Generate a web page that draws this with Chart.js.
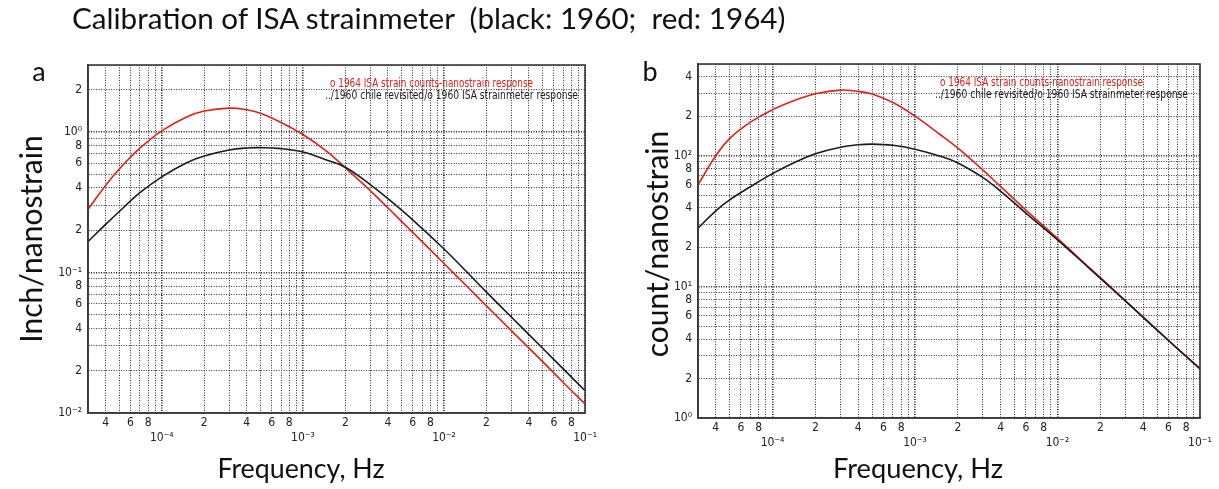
<!DOCTYPE html>
<html>
<head>
<meta charset="utf-8">
<title>Calibration of ISA strainmeter</title>
<script src="https://cdn.jsdelivr.net/npm/chart.js@4.4.0/dist/chart.umd.min.js"></script>
<style>
  body { margin: 0; background: #fff; width: 1219px; height: 489px; position: relative; overflow: hidden;
         font-family: Lato, "Open Sans", sans-serif; color: #111; }
  canvas { position: absolute; top: 0; }
  #chartA { left: 0; }
  #chartB { left: 600px; }
  .txt { position: absolute; white-space: nowrap; line-height: 1; }
  .mid { transform: translate(-50%, -50%); }
  .rot { transform: translate(-50%, -50%) rotate(-90deg); }
</style>
</head>
<body>
<canvas id="chartA" width="600" height="489"></canvas>
<canvas id="chartB" width="619" height="489"></canvas>

<div class="txt" id="title" style="left:72px; top:18px; font-size:24px; transform:translateY(-50%);">Calibration of ISA strainmeter&nbsp; (black: 1960;&nbsp; red: 1964)</div>
<div class="txt mid" style="left:39px; top:70px; font-size:27px;">a</div>
<div class="txt mid" style="left:650px; top:70px; font-size:27px;">b</div>
<div class="txt rot" id="ytitleA" style="left:30px; top:239px; font-size:30px;">Inch/nanostrain</div>
<div class="txt rot" id="ytitleB" style="left:656px; top:244px; font-size:30px;">count/nanostrain</div>
<div class="txt mid" id="xtitleA" style="left:301px; top:468px; font-size:26px;">Frequency, Hz</div>
<div class="txt mid" id="xtitleB" style="left:918px; top:468px; font-size:26px;">Frequency, Hz</div>

<script>
// ---- data ----
const freq = [3e-5, 4e-5, 5e-5, 7e-5, 1e-4, 1.5e-4, 2e-4, 3e-4, 4e-4, 5e-4, 7e-4, 1e-3,
              1.5e-3, 2e-3, 3e-3, 4e-3, 6e-3, 1e-2, 1.5e-2, 2e-2, 3e-2, 5e-2, 7e-2, 1e-1];

// panel a: inch / nanostrain
const inch1964 = [0.282, 0.417, 0.545, 0.767, 1.02, 1.28, 1.41, 1.48, 1.44, 1.36, 1.17, 0.96,
                  0.72, 0.555, 0.383, 0.289, 0.193, 0.116, 0.0772, 0.0579, 0.0386, 0.0232, 0.0165, 0.0116];
const inch1960 = [0.166, 0.22, 0.272, 0.37, 0.48, 0.605, 0.675, 0.745, 0.77, 0.774, 0.762, 0.72,
                  0.628, 0.562, 0.423, 0.336, 0.237, 0.147, 0.0975, 0.0725, 0.0482, 0.0289, 0.0206, 0.0144];

// panel b: count / nanostrain
const count1964 = [60, 100, 135, 180, 224, 269, 297, 316, 309, 295, 254, 200,
                   145, 114, 77.6, 58, 38.5, 23.4, 15.6, 11.75, 7.83, 4.7, 3.36, 2.38];
const count1960 = [28, 38, 46, 58, 73, 91, 103.5, 116, 121, 122.5, 120, 112,
                   99, 88, 68, 53.5, 36.5, 22.8, 15.4, 11.6, 7.78, 4.68, 3.35, 2.37];

const freqRange = [3e-5, 1e-1];
const inchRange = [0.01, 3];
const countRange = [1, 500];

const noteRed = 'o 1964 ISA strain counts-nanostrain response';
const noteBlack = '../1960 chile revisited/o 1960 ISA strainmeter response';

const RED = '#e3211c';
const BLACK = '#1c1c1c';
const tickFont = { family: '"Liberation Sans Narrow", "DejaVu Sans Condensed", sans-serif', size: 12 };

/*** ======== helpers ======== ***/
const sup = { '-': '\u207b', '0': '\u2070', '1': '\u00b9', '2': '\u00b2', '3': '\u00b3',
              '4': '\u2074', '5': '\u2075', '6': '\u2076', '7': '\u2077', '8': '\u2078', '9': '\u2079' };

function logTicks(min, max) {
    const out = [];
    for (let e = Math.floor(Math.log10(min)); e <= Math.ceil(Math.log10(max)); e++) {
        for (let m = 1; m <= 9; m++) {
            const v = m * Math.pow(10, e);
            if (v >= min * 0.999 && v <= max * 1.001) out.push({ value: v, major: m === 1 });
        }
    }
    return out;
}

function tickLabel(v, isX) {
    const e = Math.floor(Math.log10(v) + 1e-9);
    const m = Math.round(v / Math.pow(10, e));
    if (m === 1) {
        const s = '10' + String(e).split('').map(c => sup[c]).join('');
        return isX ? ['', s] : s;
    }
    if (m % 2 === 0) return String(m);
    return '';
}

const gridColor = ctx => (ctx.tick && ctx.tick.major) ? '#1a1a1a' : '#333';
const gridWidth = ctx => (ctx.tick && ctx.tick.major) ? 1.6 : 1;

const frameAndNotes = {
    id: 'frameAndNotes',
    afterDraw(chart) {
        const { ctx, chartArea: a } = chart;
        ctx.save();
        ctx.strokeStyle = '#3a3a3a';
        ctx.lineWidth = 1.6;
        ctx.strokeRect(a.left, a.top, a.right - a.left, a.bottom - a.top);
        ctx.font = '12px "Liberation Sans Narrow", "DejaVu Sans Condensed", sans-serif';
        ctx.textBaseline = 'middle';
        ctx.fillStyle = RED;
        ctx.fillText(noteRed, a.left + 242, a.top + 19, 203);
        ctx.fillStyle = BLACK;
        ctx.fillText(noteBlack, a.left + 237, a.top + 31, 253);
        ctx.restore();
    }
};

function makeChart(id, series1960, series1964, yRange, yWidth, xHeight, pad) {
    const pts = arr => freq.map((f, i) => ({ x: f, y: arr[i] }));
    return new Chart(document.getElementById(id), {
        type: 'line',
        data: {
            datasets: [
                { label: '1960', data: pts(series1960), borderColor: BLACK, borderWidth: 1.6 },
                { label: '1964', data: pts(series1964), borderColor: RED, borderWidth: 1.6 }
            ]
        },
        options: {
            responsive: false,
            animation: false,
            events: [],
            layout: { padding: pad },
            elements: {
                point: { radius: 0 },
                line: { tension: 0.4, fill: false }
            },
            plugins: { legend: { display: false }, tooltip: { enabled: false } },
            scales: {
                x: {
                    type: 'logarithmic',
                    min: freqRange[0], max: freqRange[1],
                    afterBuildTicks: s => { s.ticks = logTicks(freqRange[0], freqRange[1]); },
                    afterFit: s => { s.height = xHeight; },
                    grid: { color: gridColor, lineWidth: gridWidth, drawTicks: false },
                    border: { display: true, color: '#3a3a3a', width: 1.6, dash: [1, 1.5] },
                    ticks: {
                        autoSkip: false, maxRotation: 0, padding: 3,
                        color: '#222', font: tickFont,
                        callback: v => tickLabel(v, true)
                    }
                },
                y: {
                    type: 'logarithmic',
                    min: yRange[0], max: yRange[1],
                    afterBuildTicks: s => { s.ticks = logTicks(yRange[0], yRange[1]); },
                    afterFit: s => { s.width = yWidth; },
                    grid: { color: gridColor, lineWidth: gridWidth, drawTicks: false },
                    border: { display: true, color: '#3a3a3a', width: 1.6, dash: [1, 1.5] },
                    ticks: {
                        autoSkip: false, padding: 6,
                        color: '#222', font: tickFont,
                        callback: v => tickLabel(v, false)
                    }
                }
            }
        },
        plugins: [frameAndNotes]
    });
}

makeChart('chartA', inch1960, inch1964, inchRange, 88, 76, { top: 65, right: 13, bottom: 0, left: 0 });
makeChart('chartB', count1960, count1964, countRange, 98, 71, { top: 64, right: 19, bottom: 0, left: 0 });

/*** ======== fit title widths ======== ***/
function fitWidth(id, target) {
    const el = document.getElementById(id);
    const fs = parseFloat(getComputedStyle(el).fontSize);
    el.style.fontSize = (fs * target / el.offsetWidth).toFixed(2) + 'px';
}
fitWidth('title', 713);
fitWidth('xtitleA', 167);
fitWidth('xtitleB', 170);
</script>
</body>
</html>
